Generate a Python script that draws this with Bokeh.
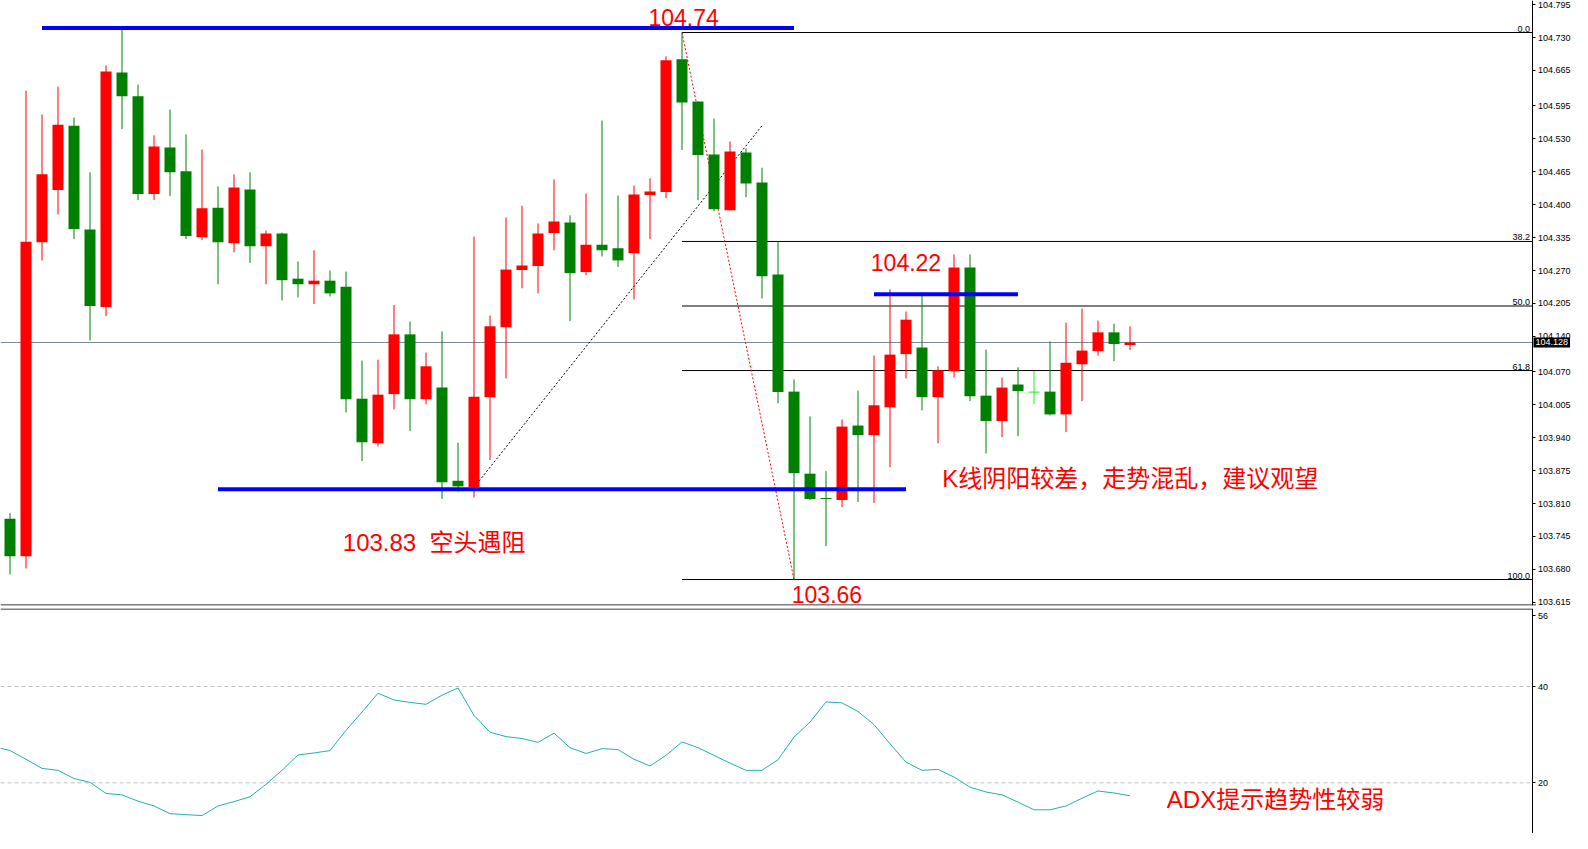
from bokeh.plotting import figure
from bokeh.layouts import column
from bokeh.models import Range1d, FixedTicker, Label, ColumnDataSource
from bokeh.core.properties import value
from bokeh.embed import file_html
from bokeh.resources import INLINE

# ---------------- data ----------------
opens = [103.780, 103.706, 104.326, 104.429, 104.556, 104.351, 104.198, 104.661, 104.614, 104.421,
         104.513, 104.466, 104.336, 104.394, 104.324, 104.430, 104.318, 104.343, 104.254, 104.243,
         104.250, 104.238, 104.017, 103.929, 104.026, 104.144, 104.016, 104.039, 103.855, 103.842,
         104.020, 104.158, 104.271, 104.279, 104.344, 104.365, 104.267, 104.321, 104.314, 104.304,
         104.419, 104.425, 104.687, 104.604, 104.499, 104.389, 104.503, 104.444, 104.262, 104.031,
         103.869, 103.820, 103.817, 103.964, 103.945, 104.000, 104.105, 104.118, 104.020, 104.071,
         104.276, 104.023, 103.973, 104.045, 104.030, 104.031, 103.986, 104.085, 104.111, 104.148,
         104.123]
closes = [103.706, 104.327, 104.460, 104.558, 104.352, 104.200, 104.663, 104.614, 104.421, 104.515,
          104.464, 104.338, 104.393, 104.326, 104.434, 104.318, 104.343, 104.251, 104.243, 104.250,
          104.225, 104.016, 103.931, 104.025, 104.144, 104.016, 104.081, 103.852, 103.844, 104.021,
          104.160, 104.272, 104.280, 104.343, 104.367, 104.265, 104.321, 104.310, 104.290, 104.420,
          104.426, 104.685, 104.602, 104.498, 104.391, 104.505, 104.442, 104.259, 104.030, 103.870,
          103.819, 103.820, 103.962, 103.945, 104.004, 104.104, 104.173, 104.020, 104.073, 104.276,
          104.022, 103.973, 104.039, 104.032, 104.030, 103.986, 104.088, 104.112, 104.148, 104.125,
          104.128]
highs = [103.791, 104.625, 104.578, 104.633, 104.572, 104.464, 104.675, 104.749, 104.637, 104.537,
         104.588, 104.539, 104.509, 104.436, 104.460, 104.464, 104.349, 104.345, 104.288, 104.310,
         104.270, 104.268, 104.092, 104.094, 104.202, 104.169, 104.108, 104.150, 103.930, 104.337,
         104.181, 104.375, 104.398, 104.363, 104.450, 104.379, 104.422, 104.566, 104.418, 104.438,
         104.452, 104.693, 104.740, 104.604, 104.570, 104.525, 104.511, 104.473, 104.327, 104.055,
         103.982, 103.874, 103.976, 104.033, 104.102, 104.233, 104.189, 104.227, 104.081, 104.302,
         104.302, 104.114, 104.059, 104.079, 104.071, 104.130, 104.167, 104.195, 104.171, 104.165,
         104.160]
lows = [103.670, 103.682, 104.290, 104.381, 104.332, 104.132, 104.180, 104.549, 104.409, 104.409,
        104.417, 104.332, 104.330, 104.243, 104.306, 104.285, 104.243, 104.211, 104.217, 104.204,
        104.219, 103.990, 103.894, 103.923, 103.996, 103.953, 104.006, 103.819, 103.834, 103.822,
        103.896, 104.057, 104.235, 104.225, 104.310, 104.170, 104.261, 104.298, 104.277, 104.213,
        104.332, 104.413, 104.508, 104.409, 104.387, 104.389, 104.415, 104.215, 104.008, 103.660,
        103.817, 103.726, 103.803, 103.813, 103.811, 103.882, 104.057, 103.994, 103.929, 104.059,
        104.012, 103.909, 103.941, 103.943, 104.006, 103.984, 103.951, 104.012, 104.102, 104.091,
        104.113]

adx_index = list(range(-1, 71))
adx_values = [27.5, 26.7, 24.9, 23.0, 22.6, 20.9, 20.1, 17.8, 17.5, 16.2, 15.2,
              13.6, 13.4, 13.2, 15.2, 16.1, 17.1, 19.7, 22.6, 25.8, 26.2,
              26.7, 30.9, 34.7, 38.6, 37.2, 36.7, 36.3, 38.2, 39.7, 34.0,
              30.5, 29.6, 29.2, 28.4, 30.3, 27.3, 26.1, 27.1, 26.9, 24.9,
              23.5, 25.7, 28.5, 27.3, 25.7, 24.1, 22.6, 22.6, 24.8, 29.5,
              32.6, 36.8, 36.6, 34.8, 32.1, 28.1, 24.3, 22.6, 22.8, 21.2,
              19.1, 18.1, 17.5, 16.0, 14.4, 14.4, 15.2, 16.8, 18.3, 17.9, 17.3]

price_tick_labels = ["104.795", "104.730", "104.665", "104.595", "104.530", "104.465", "104.400",
                     "104.335", "104.270", "104.205", "104.140", "104.070", "104.005", "103.940",
                     "103.875", "103.810", "103.745", "103.680", "103.615"]
adx_tick_labels = ["56", "40", "20"]
current_price = 104.128

fib_high, fib_low, fib_start = 104.74, 103.66, 42
fib_levels = [0.0, 38.2, 50.0, 61.8, 100.0]
fib_names = ["0.0", "38.2", "50.0", "61.8", "100.0"]

blue_levels = [104.749, 103.838, 104.223]
blue_from = [2, 13, 54]
blue_to = [49, 56, 63]

red_trend_x, red_trend_y = [42, 49], [104.74, 103.66]
black_trend_x, black_trend_y = [29, 47], [103.842, 104.556]

notes_text = ["104.74", "104.22", "103.66", "103.83\u00a0\u00a0空头遇阻", "K线阴阳较差，走势混乱，建议观望"]
notes_x = [39.9, 53.8, 48.86, 20.8, 58.27]
notes_y = [104.770, 104.286, 103.630, 103.734, 103.859]
adx_note = "ADX提示趋势性较弱"
adx_note_x, adx_note_y = 72.3, 16.5

# ---------------- layout constants ----------------
PX_PER_BAR = 16.0
PX_PER_PRICE = 506.5
PX_PER_ADX = 4.817
TOTAL_W = 1572
AXIS_PX = 1531
MAIN_H = 605
ADX_H = 225

x0 = -9.5 / PX_PER_BAR
x1 = x0 + TOTAL_W / PX_PER_BAR
x_axis = x0 + (AXIS_PX + 0.5) / PX_PER_BAR
y_top = 104.74 + 32 / PX_PER_PRICE
y_bot = y_top - MAIN_H / PX_PER_PRICE
adx_top = 40 + 78 / PX_PER_ADX
adx_bot = adx_top - ADX_H / PX_PER_ADX

RED = "#FF0000"
GREEN = "#008000"
LIME = "#22EE22"
FONT = value("Liberation Sans, Noto Sans CJK SC")
AXFONT = "Liberation Sans"
note_sizes = ["23px", "23px", "23px", "24px", "24px"]


def style_axis(a):
    a.fixed_location = x_axis
    a.major_tick_out = 3
    a.major_tick_in = 0
    a.minor_tick_out = 0
    a.minor_tick_in = 0
    a.axis_line_color = "black"
    a.major_tick_line_color = "black"
    a.major_label_text_font = AXFONT
    a.major_label_text_font_size = "9px"
    a.major_label_text_color = "black"
    a.major_label_standoff = 3


# ---------------- main price panel ----------------
p = figure(frame_width=TOTAL_W, frame_height=MAIN_H, x_range=Range1d(x0, x1),
           y_range=Range1d(y_bot, y_top), output_backend="svg", toolbar_location=None,
           x_axis_location=None, y_axis_location="right",
           min_border_left=0, min_border_top=0, min_border_bottom=3, min_border_right=0)
p.xgrid.visible = False
p.ygrid.visible = False
p.outline_line_color = None
p.background_fill_color = "white"
p.border_fill_color = "white"

ax = p.yaxis[0]
ax.ticker = FixedTicker(ticks=[float(t) for t in price_tick_labels])
ax.major_label_overrides = {float(t): t for t in price_tick_labels}
style_axis(ax)

# fib levels
fib_prices = [fib_high - (fib_high - fib_low) * l / 100.0 for l in fib_levels]
p.segment(x0=[fib_start] * len(fib_prices), y0=fib_prices, x1=[x_axis] * len(fib_prices), y1=fib_prices,
          line_color="black", line_width=1)
p.text(x=[x_axis - 2 / PX_PER_BAR] * len(fib_prices), y=[fp + 1 / PX_PER_PRICE for fp in fib_prices],
       text=fib_names, text_align="right", text_baseline="bottom", text_font=value(AXFONT),
       text_font_size="9px", text_color="black")

# current price line
p.segment(x0=[x0], y0=[current_price], x1=[x_axis], y1=[current_price], line_color="#778899", line_width=1)

# dotted trend lines
p.line(red_trend_x, red_trend_y, line_color=RED, line_width=1, line_dash="2 2")
p.line(black_trend_x, black_trend_y, line_color="black", line_width=1, line_dash="2 2")

# candles
n = len(opens)
xs = list(range(n))
cols = [RED if c > o else GREEN for o, c in zip(opens, closes)]
cols[64] = LIME
src = ColumnDataSource(dict(x=xs, o=opens, c=closes, h=highs, l=lows,
                            top=[max(o, c) for o, c in zip(opens, closes)],
                            bot=[min(o, c) for o, c in zip(opens, closes)], col=cols))
bw = 11 / PX_PER_BAR
p.segment(x0="x", y0="h", x1="x", y1="l", line_color="col", line_width=1, source=src)
p.vbar(x="x", top="top", bottom="bot", width=bw, fill_color="col", line_color=None, source=src)
doji = [i for i in range(n) if abs(opens[i] - closes[i]) < 0.0015]
p.segment(x0=[i - bw / 2 for i in doji], y0=[opens[i] for i in doji],
          x1=[i + bw / 2 for i in doji], y1=[opens[i] for i in doji],
          line_color=[cols[i] for i in doji], line_width=1)

# blue lines
p.segment(x0=blue_from, y0=blue_levels, x1=blue_to, y1=blue_levels, line_color="#0000FF", line_width=4)

# notes
nsrc = ColumnDataSource(dict(x=notes_x, y=notes_y, t=notes_text, s=note_sizes))
p.text(x="x", y="y", text="t", text_font_size="s", source=nsrc, text_color=RED, text_font=FONT,
       text_baseline="alphabetic", text_align="left")

# bottom separator
sep_y = y_bot + 0.5 / PX_PER_PRICE
p.segment(x0=[x0], y0=[sep_y], x1=[x_axis + 4 / PX_PER_BAR], y1=[sep_y], line_color="black", line_width=1)

# current price box on the axis
box_kw = dict(x=AXIS_PX + 2, x_units="screen", y=current_price, y_units="data",
              text=f"{current_price:.3f}", text_color="white", background_fill_color="black",
              text_font=AXFONT, text_font_size="9px", text_baseline="middle", text_align="left")
if "padding" in Label.properties():
    box_kw["padding"] = 2
p.add_layout(Label(**box_kw))

# ---------------- ADX panel ----------------
q = figure(frame_width=TOTAL_W, frame_height=ADX_H, x_range=p.x_range,
           y_range=Range1d(adx_bot, adx_top), output_backend="svg", toolbar_location=None,
           x_axis_location=None, y_axis_location="right",
           min_border_left=0, min_border_top=0, min_border_bottom=0, min_border_right=0)
q.xgrid.visible = False
q.ygrid.visible = False
q.outline_line_color = None
q.background_fill_color = "white"
q.border_fill_color = "white"
qa = q.yaxis[0]
adx_tick_pos = [adx_top - 7.3 / PX_PER_ADX] + [float(t) for t in adx_tick_labels[1:]]
qa.ticker = FixedTicker(ticks=adx_tick_pos)
qa.major_label_overrides = {pos: lab for pos, lab in zip(adx_tick_pos, adx_tick_labels)}
style_axis(qa)

lv = adx_tick_pos[1:]
q.segment(x0=[x0] * len(lv), y0=lv, x1=[x_axis] * len(lv), y1=lv, line_color="#C0C0C0",
          line_width=1, line_dash="4 3")
top_sep = adx_top - 0.5 / PX_PER_ADX
q.segment(x0=[x0], y0=[top_sep], x1=[x_axis], y1=[top_sep], line_color="black", line_width=1)

q.line(adx_index, adx_values, line_color="#20B2AA", line_width=1)

q.text(x=[adx_note_x], y=[adx_note_y], text=[adx_note], text_color=RED, text_font=FONT,
       text_font_size="24px", text_baseline="alphabetic", text_align="left")

layout = column(p, q, spacing=0)
open("out.html", "w").write(file_html(layout, INLINE))
